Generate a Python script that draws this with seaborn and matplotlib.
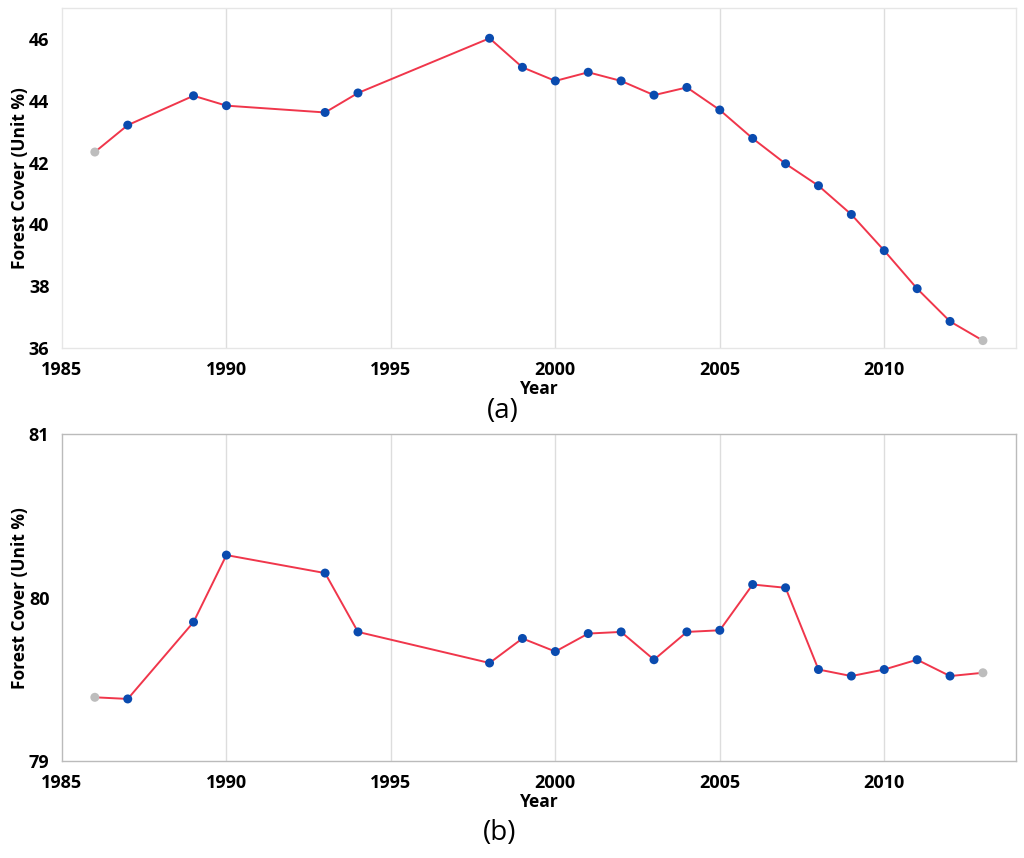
"""
Forest cover time series, two panels.
"""

import numpy as np
import pandas as pd
import seaborn as sns
import matplotlib.pyplot as plt

# years with observations
years = [1986, 1987, 1989, 1990, 1993, 1994, 1998, 1999, 2000, 2001, 2002,
         2003, 2004, 2005, 2006, 2007, 2008, 2009, 2010, 2011, 2012, 2013]

# panel (a) forest cover (%)
cover_a = [42.34, 43.21, 44.16, 43.84, 43.62, 44.25, 46.02, 45.08, 44.64, 44.92, 44.64,
           44.18, 44.43, 43.70, 42.78, 41.96, 41.25, 40.32, 39.15, 37.92, 36.86, 36.24]

# panel (b) forest cover (%)
cover_b = [79.39, 79.38, 79.85, 80.26, 80.15, 79.79, 79.60, 79.75, 79.67, 79.78, 79.79,
           79.62, 79.79, 79.80, 80.08, 80.06, 79.56, 79.52, 79.56, 79.62, 79.52, 79.54]

# first and last point drawn grey
status = ["end"] + ["mid"] * (len(years) - 2) + ["end"]

sns.set_style("white")
plt.rcParams["font.family"] = ["Open Sans", "DejaVu Sans"]
plt.rcParams["text.color"] = "black"
plt.rcParams["axes.labelcolor"] = "black"
plt.rcParams["xtick.color"] = "black"
plt.rcParams["ytick.color"] = "black"

fig = plt.figure(figsize=(10.24, 8.58), dpi=100)
ax_a = fig.add_axes([0.0605, 0.5944, 0.9315, 0.3963])
ax_b = fig.add_axes([0.0605, 0.1130, 0.9315, 0.3810])

line_col = "#F0364B"
palette = {"mid": "#0A4BAF", "end": "#BDBDBD"}


def draw(ax, values, ylim, yticks, yminor, spine_col):
    df = pd.DataFrame({"Year": years, "Cover": values, "status": status})
    for x in [1990, 1995, 2000, 2005, 2010]:
        ax.axvline(x, color="#DDDDDD", lw=1.0, zorder=0)
    sns.lineplot(data=df, x="Year", y="Cover", ax=ax, color=line_col, lw=1.4, zorder=2)
    sns.scatterplot(data=df, x="Year", y="Cover", hue="status", palette=palette, ax=ax,
                    s=42, edgecolor="none", zorder=3, legend=False)
    ax.set_xlim(1985, 2014)
    ax.set_ylim(*ylim)
    ax.set_xticks([1985, 1990, 1995, 2000, 2005, 2010])
    ax.set_xticks(np.arange(1987.5, 2014, 5), minor=True)
    ax.set_yticks(yticks)
    ax.set_yticks(yminor, minor=True)
    ax.tick_params(axis="both", which="major", length=5, width=1, color="#999999",
                   labelsize=13, direction="out", pad=4, labelcolor="black")
    ax.tick_params(axis="both", which="minor", length=3, width=0.8, color="#BBBBBB",
                   direction="out")
    for t in ax.get_xticklabels() + ax.get_yticklabels():
        t.set_fontweight("bold")
    for s in ax.spines.values():
        s.set_color(spine_col)
        s.set_linewidth(1.0)
    ax.set_xlabel("Year", fontsize=12.5, fontweight="bold", labelpad=1)
    ax.set_ylabel("Forest Cover (Unit %)", fontsize=12.5, fontweight="bold")
    ax.yaxis.set_label_coords(-0.035, 0.5)


draw(ax_a, cover_a, (36, 47), [36, 38, 40, 42, 44, 46], [37, 39, 41, 43, 45], "#E6E6E6")
draw(ax_b, cover_b, (79, 81), [79, 80, 81], [79.5, 80.5], "#BBBBBB")

fig.text(0.491, 0.521, "(a)", fontsize=20, ha="center", va="center")
fig.text(0.488, 0.029, "(b)", fontsize=20, ha="center", va="center")

fig.savefig("out.png", dpi=100)
